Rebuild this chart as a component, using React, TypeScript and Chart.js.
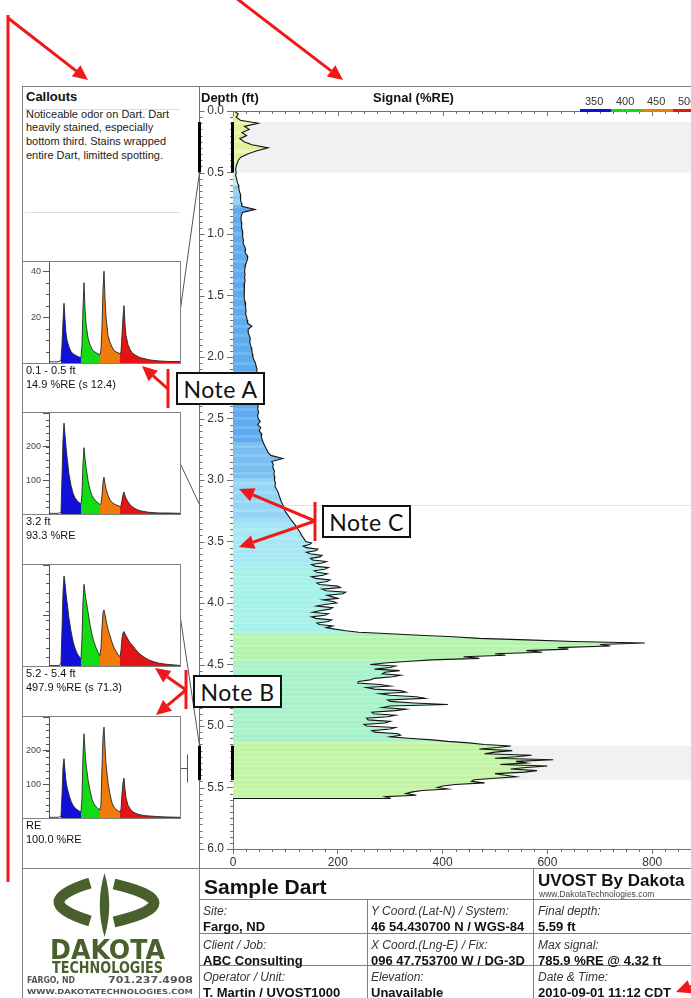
import React, { useEffect, useRef } from 'react';
import { Chart, registerables } from 'chart.js';

Chart.register(...registerables);
Chart.defaults.font.family = '"Liberation Sans", Arial, sans-serif';

// ---------------- Main profile data (signal %RE vs depth ft) ----------------
// coarse samples: 0.000 .. 3.475 ft every 0.025 ft
const COARSE_START_FT = 0;
const COARSE_STEP_FT = 0.025;
const SIGNAL_COARSE = [
  3, 10, 6, 14, 48, 22, 31, 17, 26, 13,
  21, 36, 67, 44, 28, 15, 10, 8, 6, 5,
  6, 5, 7, 8, 10, 11, 12, 14, 15, 14,
  16, 17, 42, 18, 16, 15, 16, 17, 16, 18,
  18, 19, 20, 19, 22, 24, 23, 27, 28, 26,
  24, 23, 22, 23, 22, 23, 22, 21, 22, 21,
  21, 22, 23, 24, 24, 25, 24, 26, 27, 28,
  36, 29, 29, 31, 33, 32, 33, 35, 36, 37,
  38, 40, 43, 44, 46, 45, 46, 45, 47, 46,
  47, 48, 47, 48, 47, 46, 48, 47, 49, 47,
  48, 52, 47, 53, 50, 55, 54, 56, 58, 61,
  64, 67, 72, 95, 74, 77, 76, 79, 78, 80,
  79, 81, 80, 83, 86, 88, 90, 92, 95, 97,
  99, 103, 107, 111, 116, 120, 124, 128, 131, 135,
];
// fine samples: 3.5000 .. 5.5875 ft every 0.0125 ft (8 per row = 0.1 ft)
const FINE_START_FT = 3.5;
const FINE_STEP_FT = 0.0125;
const SIGNAL_FINE = [
  139, 150, 146, 134, 140, 162, 158, 140,
  147, 170, 166, 148, 152, 178, 170, 150,
  156, 182, 175, 155, 160, 180, 172, 150,
  158, 185, 180, 160, 165, 200, 205, 170,
  178, 215, 210, 180, 190, 200, 172, 192,
  198, 175, 160, 190, 185, 165, 152, 182,
  175, 150, 158, 188, 182, 160, 165, 190,
  178, 195, 215, 240, 300, 355, 420, 470,
  560, 650, 786, 700, 720, 620, 640, 560,
  590, 500, 520, 440, 470, 380, 330, 290,
  262, 310, 300, 270, 318, 290, 285, 320,
  305, 270, 262, 240, 238, 280, 300, 255,
  270, 320, 330, 280, 300, 350, 366, 295,
  300, 345, 410, 300, 285, 330, 310, 265,
  268, 310, 295, 255, 258, 300, 290, 250,
  255, 310, 300, 265, 270, 315, 320, 300,
  335, 380, 410, 450, 480, 530, 505, 470,
  533, 500, 480, 570, 540, 500, 611, 540,
  560, 510, 600, 560, 530, 580, 557, 500,
  520, 540, 500, 460, 455, 480, 424, 400,
  390, 410, 361, 340, 330, 350, 290, 300,
];
const FINAL_DEPTH_FT = 5.59;

const SIGNAL_MAX = 874;
const SIGNAL_TICK_STEP = 200;
const SIGNAL_MINOR_STEP = 25;
const DEPTH_MAX = 6;
const DEPTH_TICK_STEP = 0.5;
const DEPTH_MINOR_STEP = 0.05;

// fill colour bands by depth: [start depth, colour, stripe colour]
const FILL_BANDS: [number, string, string][] = [
  [0.0, '#e2f09c', '#ecf5b4'],
  [0.45, '#c4eee6', '#b4e6f0'],
  [0.62, '#9ad2f6', '#8ac8f4'],
  [0.76, '#60aaf0', '#74b8f2'],
  [2.7, '#7abef2', '#8ac8f4'],
  [3.0, '#94d4f6', '#a2dcf6'],
  [3.35, '#a6e6f6', '#b0ecf4'],
  [3.7, '#a6f2e8', '#b2f4ec'],
  [4.25, '#b4f4b0', '#c2f6ba'],
  [4.47, '#a8f2ca', '#b4f4d4'],
  [5.12, '#c2f4a6', '#cef6b0'],
];

// ---------------- Callouts ----------------
const CALLOUT_RANGES: [number, number][] = [[0.09, 0.5], [3.2, 3.2], [5.16, 5.44]];
const CALLOUT_TITLES = ['0.1 - 0.5 ft', '3.2 ft', '5.2 - 5.4 ft', 'RE'];
const CALLOUT_VALUES = ['14.9 %RE (s 12.4)', '93.3 %RE', '497.9 %RE (s 71.3)', '100.0 %RE'];
const CALLOUT_NOTE = [
  'Noticeable odor on Dart. Dart',
  'heavily stained, especially',
  'bottom third. Stains wrapped',
  'entire Dart, limitted spotting.',
];

// waveform samples (time axis, shared) and amplitudes for each callout
const WAVE_T = [
  0, 8, 11, 12, 13, 14, 15, 16, 17, 18, 20, 22, 24, 26, 28, 30, 32,
  33, 34, 35, 36, 37, 39, 41, 43, 45, 47, 49, 51,
  52, 53, 54, 55, 56, 57, 59, 61, 63, 65, 67, 69, 71,
  72, 73, 74, 75, 76, 77, 79, 81, 83, 86, 89, 92, 96, 100, 105, 110, 118, 131,
];
const WAVE_1 = [
  0.5, 0.5, 0.8, 1.5, 8, 18, 26, 19, 13, 10, 7, 5, 4, 3.5, 3, 2.6, 2.4,
  8, 24, 35, 24, 17, 11, 8, 6, 5, 4.5, 4, 3.5,
  6, 16, 32, 40, 28, 20, 12, 9, 7, 5.5, 4.8, 4.5, 4,
  5, 12, 20, 25, 17, 12, 8, 6, 4.5, 3.5, 2.8, 2.2, 1.8, 1.4, 1.1, 0.9, 0.7, 0.6,
];
const WAVE_2 = [
  2, 2, 3, 5, 110, 220, 270, 235, 200, 170, 118, 85, 62, 48, 40, 34, 29,
  60, 150, 197, 165, 140, 100, 72, 55, 45, 38, 33, 28,
  30, 55, 95, 109, 90, 75, 55, 42, 35, 30, 27, 25, 22,
  25, 40, 58, 65, 55, 47, 36, 28, 22, 16, 12, 9, 7, 5, 4, 3, 3, 2,
];
const WAVE_3 = [
  5, 5, 8, 40, 400, 800, 980, 900, 790, 700, 520, 380, 270, 195, 140, 105, 80,
  300, 700, 890, 800, 720, 590, 450, 340, 260, 200, 150, 115,
  200, 420, 580, 610, 560, 500, 400, 330, 260, 200, 160, 125, 100,
  170, 300, 360, 375, 350, 330, 290, 255, 230, 190, 150, 120, 90, 65, 45, 30, 18, 6,
];
const WAVE_4 = [
  2, 2, 3, 6, 70, 150, 176, 140, 110, 92, 68, 50, 38, 30, 25, 21, 18,
  60, 190, 250, 200, 160, 115, 82, 55, 42, 34, 28, 24,
  40, 150, 240, 270, 210, 160, 105, 70, 45, 32, 26, 21, 18,
  25, 70, 105, 118, 85, 60, 38, 28, 20, 15, 11, 9, 7, 6, 5, 4, 3, 2,
];
const WAVES = [WAVE_1, WAVE_2, WAVE_3, WAVE_4];
const WAVE_T_MAX = 131;
const WAVE_Y_MAX = [44, 300, 1100, 300];
const WAVE_Y_LABELS = [[20, 40], [100, 200], [500, 1000], [100, 200]];
const WAVE_Y_MINOR = [5, 20, 100, 20];

const CHANNELS = ['350', '400', '450', '500'];
const CHANNEL_COLORS = ['#1010d8', '#14dc14', '#f07a0a', '#e41414'];
const CHANNEL_WINDOWS: [number, number][] = [[12, 32], [32, 51], [51, 71], [71, 131]];

// ---------------- Title block ----------------
const SITE_ROWS = [
  ['Site:', 'Fargo, ND'],
  ['Client / Job:', 'ABC Consulting'],
  ['Operator / Unit:', 'T. Martin / UVOST1000'],
];
const COORD_ROWS = [
  ['Y Coord.(Lat-N) / System:', '46 54.430700 N / WGS-84'],
  ['X Coord.(Lng-E) / Fix:', '096 47.753700 W / DG-3D'],
  ['Elevation:', 'Unavailable'],
];
const RESULT_ROWS = [
  ['Final depth:', '5.59 ft'],
  ['Max signal:', '785.9 %RE @ 4.32 ft'],
  ['Date & Time:', '2010-09-01 11:12 CDT'],
];
const NOTES = ['Note A', 'Note B', 'Note C'];

// ---------------- Layout ----------------
const MAIN_LEFT = 180;
const MAIN_TOP = 86;
const MAIN_W = 511;
const MAIN_H = 782;
const SEP_X = 199;
const CALLOUT_TOPS = [262, 413, 565, 717];
const ROW_TOPS = [899, 933, 965];
const RED = '#f01818';
const LINE = '#808080';
const FONT = '"Liberation Sans", Arial, sans-serif';

// samples of the profile: {depth, signal}
const PROFILE = [
  ...SIGNAL_COARSE.map((v, i) => ({ d: COARSE_START_FT + i * COARSE_STEP_FT, v })),
  ...SIGNAL_FINE.map((v, i) => ({ d: FINE_START_FT + i * FINE_STEP_FT, v })),
];

function fillColorAt(depth: number, idx: number) {
  let band = FILL_BANDS[0];
  for (const b of FILL_BANDS) if (depth >= b[0] - 1e-9) band = b;
  return idx % 3 === 1 ? band[2] : band[1];
}

function line(ctx: CanvasRenderingContext2D, x1: number, y1: number, x2: number, y2: number) {
  ctx.beginPath();
  ctx.moveTo(x1, y1);
  ctx.lineTo(x2, y2);
  ctx.stroke();
}

// striped fill: vertical gradient with hard colour stops per depth sample
function profileFill(c: any) {
  const chart = c.chart;
  if (!chart.chartArea) return FILL_BANDS[3][1];
  const y = chart.scales.y;
  const g = chart.ctx.createLinearGradient(0, y.getPixelForValue(0), 0, y.getPixelForValue(DEPTH_MAX));
  const n = PROFILE.length;
  for (let i = 0; i < n; i++) {
    const d = PROFILE[i].d;
    const from = i === 0 ? 0 : (PROFILE[i - 1].d + d) / 2;
    const to = i === n - 1 ? DEPTH_MAX : (d + PROFILE[i + 1].d) / 2;
    const col = fillColorAt(d, i);
    g.addColorStop(Math.max(0, from / DEPTH_MAX), col);
    g.addColorStop(Math.min(1, to / DEPTH_MAX), col);
  }
  return g;
}

const profileDecor = {
  id: 'profileDecor',
  beforeDatasetsDraw(chart: any) {
    const { ctx, chartArea: a } = chart;
    const y = chart.scales.y;
    ctx.save();
    for (const [d1, d2] of CALLOUT_RANGES) {
      const p1 = y.getPixelForValue(d1);
      const p2 = y.getPixelForValue(d2);
      if (d2 > d1) {
        ctx.fillStyle = '#f1f1f1';
        ctx.fillRect(a.left, p1, a.right - a.left, p2 - p1);
      } else {
        ctx.strokeStyle = '#e2e2e2';
        ctx.lineWidth = 1;
        line(ctx, a.left, Math.round(p1) + 0.5, a.right, Math.round(p1) + 0.5);
      }
    }
    ctx.restore();
  },
  afterDraw(chart: any) {
    const { ctx, chartArea: a } = chart;
    const x = chart.scales.x;
    const y = chart.scales.y;
    const sep = SEP_X - MAIN_LEFT + 0.5;
    ctx.save();
    ctx.strokeStyle = '#707070';
    ctx.lineWidth = 1;
    line(ctx, sep, 0, sep, chart.height);
    const top = Math.round(a.top) + 0.5;
    line(ctx, a.left - 6, top, a.right, top);
    for (let k = 0; k * SIGNAL_MINOR_STEP <= SIGNAL_MAX; k++) {
      const v = k * SIGNAL_MINOR_STEP;
      const px = Math.round(x.getPixelForValue(v)) + 0.5;
      const major = v % SIGNAL_TICK_STEP === 0;
      if (!major) line(ctx, px, a.bottom, px, a.bottom + 3);
      line(ctx, px, a.top, px, a.top + (major ? 5 : 3));
    }
    const n = Math.round(DEPTH_MAX / DEPTH_MINOR_STEP);
    const per = Math.round(DEPTH_TICK_STEP / DEPTH_MINOR_STEP);
    for (let k = 0; k <= n; k++) {
      const py = Math.round(y.getPixelForValue(k * DEPTH_MINOR_STEP)) + 0.5;
      const major = k % per === 0;
      if (!major) line(ctx, a.left - 3, py, a.left, py);
      line(ctx, sep, py, sep + (major ? 5 : 3), py);
    }
    ctx.fillStyle = '#000';
    CALLOUT_RANGES.forEach(([d1, d2], i) => {
      const p1 = y.getPixelForValue(d1);
      const p2 = y.getPixelForValue(d2);
      if (d2 > d1) {
        ctx.fillRect(a.left - 2, p1, 3, p2 - p1);
        ctx.fillRect(sep - 1.5, p1, 3, p2 - p1);
      }
      const anchor = CALLOUT_TOPS[i] + 50 - MAIN_TOP;
      const target = anchor < p1 ? p1 : anchor > p2 ? p2 : anchor;
      ctx.strokeStyle = '#555';
      line(ctx, 0, anchor, sep, target);
    });
    const refY = CALLOUT_TOPS[3] + 51 - MAIN_TOP + 0.5;
    ctx.strokeStyle = '#555';
    line(ctx, 0, refY, 7, refY);
    line(ctx, 7.5, refY - 14, 7.5, refY + 14);
    ctx.restore();
  },
};

function ProfileChart() {
  const ref = useRef<HTMLCanvasElement>(null);
  useEffect(() => {
    const pts = PROFILE.map((p) => ({ x: p.v, y: p.d }));
    pts.push({ x: PROFILE[PROFILE.length - 1].v, y: FINAL_DEPTH_FT });
    pts.push({ x: 0, y: FINAL_DEPTH_FT });
    const chart = new Chart(ref.current as HTMLCanvasElement, {
      type: 'line',
      data: {
        datasets: [
          {
            data: pts as any,
            borderColor: '#141414',
            borderWidth: 1.1,
            pointRadius: 0,
            tension: 0,
            fill: 'origin',
            backgroundColor: profileFill,
          } as any,
        ],
      },
      options: {
        indexAxis: 'y',
        animation: false,
        responsive: false,
        events: [],
        layout: { padding: { top: 25, right: 0, left: 0, bottom: 0 } },
        plugins: { legend: { display: false }, tooltip: { enabled: false } },
        scales: {
          x: {
            type: 'linear',
            position: 'bottom',
            min: 0,
            max: SIGNAL_MAX,
            ticks: {
              stepSize: SIGNAL_TICK_STEP,
              includeBounds: false,
              autoSkip: false,
              maxRotation: 0,
              padding: 1,
              color: '#333',
              font: { size: 12 },
            },
            grid: { drawOnChartArea: false, tickLength: 5, color: '#707070' },
            border: { color: '#707070' },
            afterFit: (s: any) => {
              s.height = 19;
              s.paddingLeft = 0;
              s.paddingRight = 0;
            },
          },
          y: {
            type: 'linear',
            position: 'left',
            reverse: true,
            min: 0,
            max: DEPTH_MAX,
            ticks: {
              stepSize: DEPTH_TICK_STEP,
              autoSkip: false,
              padding: 3,
              color: '#333',
              font: { size: 12 },
              callback: (v: any) => Number(v).toFixed(1),
            },
            grid: { drawOnChartArea: false, tickLength: 6, color: '#707070' },
            border: { color: '#707070' },
            afterFit: (s: any) => {
              s.width = SEP_X - MAIN_LEFT + 34;
              s.paddingTop = 0;
              s.paddingBottom = 0;
            },
          },
        },
      } as any,
      plugins: [profileDecor],
    });
    return () => chart.destroy();
  }, []);
  return (
    <canvas
      ref={ref}
      width={MAIN_W}
      height={MAIN_H}
      style={{ position: 'absolute', left: MAIN_LEFT, top: MAIN_TOP, width: MAIN_W, height: MAIN_H }}
    />
  );
}

function MiniChart({ index }: { index: number }) {
  const ref = useRef<HTMLCanvasElement>(null);
  useEffect(() => {
    const values = WAVES[index];
    const yMax = WAVE_Y_MAX[index];
    const labels = WAVE_Y_LABELS[index];
    const minor = WAVE_Y_MINOR[index];
    const pts = WAVE_T.map((t, i) => ({ x: t, y: values[i] }));
    const outline = {
      data: pts,
      fill: false,
      borderColor: '#262626',
      borderWidth: 0.9,
      pointRadius: 0,
      tension: 0,
    };
    const fills = CHANNEL_WINDOWS.map(([a, b], c) => ({
      data: pts.filter((p) => p.x >= a && p.x <= b),
      fill: 'origin',
      backgroundColor: CHANNEL_COLORS[c],
      borderColor: 'rgba(0,0,0,0)',
      borderWidth: 0,
      pointRadius: 0,
      tension: 0,
    }));
    const minorTicks = {
      id: 'minorTicks',
      afterDraw(chart: any) {
        const { ctx, chartArea: a } = chart;
        const y = chart.scales.y;
        ctx.save();
        ctx.strokeStyle = '#555';
        ctx.lineWidth = 1;
        for (let k = 1; k * minor <= yMax; k++) {
          const py = Math.round(y.getPixelForValue(k * minor)) + 0.5;
          line(ctx, a.left - 3, py, a.left, py);
        }
        ctx.restore();
      },
    };
    const chart = new Chart(ref.current as HTMLCanvasElement, {
      type: 'line',
      data: { datasets: [outline, ...fills] as any },
      options: {
        animation: false,
        responsive: false,
        events: [],
        layout: { padding: 0 },
        plugins: { legend: { display: false }, tooltip: { enabled: false } },
        scales: {
          x: { type: 'linear', min: 0, max: WAVE_T_MAX, display: false },
          y: {
            type: 'linear',
            min: 0,
            max: yMax,
            ticks: {
              stepSize: labels[0],
              includeBounds: false,
              autoSkip: false,
              padding: 2,
              color: '#444',
              font: { size: 9 },
              callback: (v: any) => (labels.includes(Number(v)) ? String(v) : ''),
            },
            grid: { drawOnChartArea: false, tickLength: 6, color: '#555' },
            border: { color: '#555' },
            afterFit: (s: any) => {
              s.width = 26;
              s.paddingTop = 0;
              s.paddingBottom = 0;
            },
          },
        },
      } as any,
      plugins: [minorTicks],
    });
    return () => chart.destroy();
  }, [index]);
  const top = CALLOUT_TOPS[index];
  return (
    <>
      <div
        style={{
          position: 'absolute',
          left: 22,
          top: top - 1,
          width: 159,
          height: 103,
          border: `1px solid ${LINE}`,
          boxSizing: 'border-box',
        }}
      />
      <canvas
        ref={ref}
        width={157}
        height={101}
        style={{ position: 'absolute', left: 23, top, width: 157, height: 101 }}
      />
      <Txt x={26} cy={top + 108} size={11}>{CALLOUT_TITLES[index]}</Txt>
      <Txt x={26} cy={top + 122} size={11}>{CALLOUT_VALUES[index]}</Txt>
    </>
  );
}

function Txt(props: {
  x: number;
  cy: number;
  size: number;
  bold?: boolean;
  italic?: boolean;
  color?: string;
  family?: string;
  spacing?: number;
  children: any;
}) {
  const { x, cy, size, bold, italic, color = '#111', family = FONT, spacing = 0, children } = props;
  return (
    <div
      style={{
        position: 'absolute',
        left: x,
        top: cy - size * 0.49,
        fontSize: size,
        lineHeight: 1,
        fontWeight: bold ? 700 : 400,
        fontStyle: italic ? 'italic' : 'normal',
        color,
        fontFamily: family,
        letterSpacing: spacing,
        whiteSpace: 'nowrap',
      }}
    >
      {children}
    </div>
  );
}

function HL({ x, y, w, c = LINE }: { x: number; y: number; w: number; c?: string }) {
  return <div style={{ position: 'absolute', left: x, top: y, width: w, height: 1, background: c }} />;
}
function VL({ x, y, h, c = LINE }: { x: number; y: number; h: number; c?: string }) {
  return <div style={{ position: 'absolute', left: x, top: y, width: 1, height: h, background: c }} />;
}

function Arrow({ x1, y1, x2, y2 }: { x1: number; y1: number; x2: number; y2: number }) {
  const ang = Math.atan2(y2 - y1, x2 - x1);
  const L = 15;
  const W = 7;
  const bx = x2 - L * Math.cos(ang);
  const by = y2 - L * Math.sin(ang);
  const px = -Math.sin(ang) * W;
  const py = Math.cos(ang) * W;
  return (
    <g>
      <line x1={x1} y1={y1} x2={bx} y2={by} stroke={RED} strokeWidth={3} />
      <polygon points={`${x2},${y2} ${bx + px},${by + py} ${bx - px},${by - py}`} fill={RED} />
    </g>
  );
}

function NoteBox({ x, y, text }: { x: number; y: number; text: string }) {
  return (
    <div
      style={{
        position: 'absolute',
        left: x,
        top: y,
        width: 89,
        height: 33,
        border: '2px solid #111',
        boxSizing: 'border-box',
        background: '#fff',
        display: 'flex',
        alignItems: 'center',
        justifyContent: 'center',
        fontFamily: '"Lato", "DejaVu Sans", sans-serif',
        fontSize: 23,
        letterSpacing: 0.5,
        color: '#111',
        whiteSpace: 'nowrap',
      }}
    >
      {text}
    </div>
  );
}

function Logo() {
  const green = '#4a602c';
  return (
    <svg style={{ position: 'absolute', left: 22, top: 868 }} width={177} height={130}>
      <path d="M 68 15 Q 6 34 68 53" stroke={green} strokeWidth={11} fill="none" />
      <path d="M 82.5 5 Q 92 37 82.5 69 Q 73 37 82.5 5 Z" fill={green} />
      <path d="M 92 16 Q 172 35 92 54" stroke={green} strokeWidth={11} fill="none" />
      <text x={28} y={91} fontFamily="DejaVu Sans" fontWeight={700} fontSize={26} fill={green} textLength={115} lengthAdjust="spacingAndGlyphs">DAKOTA</text>
      <text x={30} y={105} fontFamily="DejaVu Sans" fontWeight={700} fontSize={15} fill={green} textLength={111} lengthAdjust="spacingAndGlyphs">TECHNOLOGIES</text>
      <text x={5} y={115} fontFamily="DejaVu Sans" fontWeight={700} fontSize={8} fill="#555" textLength={48} lengthAdjust="spacingAndGlyphs">FARGO, ND</text>
      <text x={86} y={115} fontFamily="DejaVu Sans" fontWeight={700} fontSize={8} fill="#555" textLength={85} lengthAdjust="spacingAndGlyphs">701.237.4908</text>
      <text x={5} y={126} fontFamily="DejaVu Sans" fontWeight={700} fontSize={7} fill="#555" textLength={166} lengthAdjust="spacingAndGlyphs">WWW.DAKOTATECHNOLOGIES.COM</text>
    </svg>
  );
}

export default function App() {
  return (
    <div
      style={{
        position: 'fixed',
        left: 0,
        top: 0,
        width: 691,
        height: 998,
        overflow: 'hidden',
        background: '#fff',
        fontFamily: FONT,
      }}
    >
      <ProfileChart />

      {/* frame */}
      <HL x={22} y={86} w={669} />
      <VL x={22} y={86} h={912} />
      <HL x={22} y={868} w={669} />

      {/* callouts column */}
      <Txt x={26} cy={96} size={13} bold>Callouts</Txt>
      <HL x={25} y={109} w={155} c="#dddddd" />
      <HL x={25} y={212} w={155} c="#dddddd" />
      {CALLOUT_NOTE.map((t, i) => (
        <Txt key={i} x={26} cy={114 + i * 13.8} size={11} color="#222">{t}</Txt>
      ))}
      {CALLOUT_TOPS.map((_, i) => (
        <MiniChart key={i} index={i} />
      ))}

      {/* chart header */}
      <Txt x={201} cy={97} size={13} bold>Depth (ft)</Txt>
      <Txt x={373} cy={97} size={13} bold>Signal (%RE)</Txt>
      {CHANNELS.map((c, i) => (
        <React.Fragment key={c}>
          <Txt x={585 + i * 31} cy={101} size={11} color="#333">{c}</Txt>
          <div style={{ position: 'absolute', left: 580 + i * 31, top: 109, width: 31, height: 3, background: CHANNEL_COLORS[i] }} />
        </React.Fragment>
      ))}

      {/* title block */}
      <Logo />
      <VL x={199} y={868} h={130} />
      <VL x={533} y={868} h={130} />
      <VL x={367} y={899} h={99} />
      {ROW_TOPS.map((y) => (
        <HL key={y} x={199} y={y} w={492} />
      ))}
      <Txt x={204} cy={886} size={21} bold>Sample Dart</Txt>
      <Txt x={538} cy={880} size={17} bold>UVOST By Dakota</Txt>
      <Txt x={539} cy={894} size={8.5} color="#444">www.DakotaTechnologies.com</Txt>
      {[SITE_ROWS, COORD_ROWS, RESULT_ROWS].map((rows, c) =>
        rows.map(([label, value], r) => (
          <React.Fragment key={`${c}-${r}`}>
            <Txt x={[203, 371, 538][c]} cy={ROW_TOPS[r] + 12} size={12} italic color="#333">{label}</Txt>
            <Txt x={[203, 371, 538][c]} cy={ROW_TOPS[r] + 27} size={13} bold>{value}</Txt>
          </React.Fragment>
        ))
      )}

      {/* annotations */}
      <svg style={{ position: 'absolute', left: 0, top: 0 }} width={691} height={998}>
        <line x1={8} y1={15} x2={8} y2={882} stroke={RED} strokeWidth={3} />
        <Arrow x1={8} y1={18} x2={88} y2={80} />
        <Arrow x1={236} y1={-2} x2={343} y2={80} />
        <line x1={168} y1={369} x2={168} y2={408} stroke={RED} strokeWidth={3} />
        <Arrow x1={168} y1={389} x2={142} y2={366} />
        <line x1={315} y1={502} x2={315} y2={541} stroke={RED} strokeWidth={3} />
        <Arrow x1={315} y1={521} x2={239} y2={489} />
        <Arrow x1={315} y1={521} x2={239} y2={547} />
        <line x1={186} y1={670} x2={186} y2={709} stroke={RED} strokeWidth={3} />
        <Arrow x1={186} y1={690} x2={155} y2={668} />
        <Arrow x1={186} y1={690} x2={156} y2={715} />
        <Arrow x1={706} y1={981} x2={676} y2={992} />
      </svg>
      <NoteBox x={176} y={372} text={NOTES[0]} />
      <NoteBox x={193} y={675} text={NOTES[1]} />
      <NoteBox x={322} y={505} text={NOTES[2]} />
    </div>
  );
}
